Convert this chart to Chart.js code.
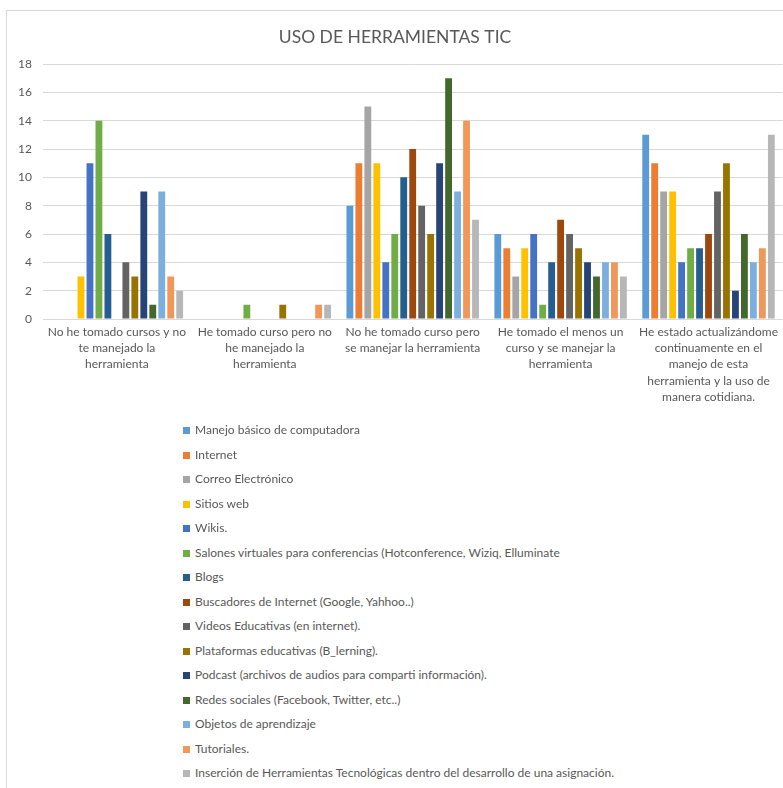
<!DOCTYPE html>
<html>
<head>
<meta charset="utf-8">
<script src="https://cdn.jsdelivr.net/npm/chart.js@4/dist/chart.umd.min.js"></script>
<style>
  html, body { margin: 0; padding: 0; background: #ffffff; }
  #wrap { position: relative; width: 783px; height: 788px; overflow: hidden; background: #fff; }
  #frame { position: absolute; left: 6px; top: 10px; width: 800px; height: 800px;
           border-left: 1px solid #d9d9d9; border-top: 1px solid #d9d9d9; box-sizing: border-box; }
  #chartBox { position: absolute; left: 0; top: 0; width: 783px; height: 420px; }
  #legend { position: absolute; left: 183px; top: 418px; font-family: Lato, "Open Sans", sans-serif;
            font-size: 12px; color: #595959; }
  .li { position: absolute; left: 0; white-space: nowrap; height: 24px; line-height: 24px; }
  .sw { display: inline-block; width: 7px; height: 7px; margin-right: 5px; vertical-align: 0px; }
</style>
</head>
<body>
<div id="wrap">
  <div id="frame"></div>
  <div id="chartBox"><canvas id="c" width="783" height="420"></canvas></div>
  <div id="legend"></div>
</div>
<script>
// ---- Data ----
const categories = [
  ["No he tomado cursos y no", "te manejado la", "herramienta"],
  ["He tomado curso pero no", "he manejado la", "herramienta"],
  ["No he tomado curso pero", "se manejar la herramienta"],
  ["He tomado el menos un", "curso y se manejar la", "herramienta"],
  ["He estado actualizándome", "continuamente en el", "manejo de esta", "herramienta y la uso de", "manera cotidiana."]
];

const seriesNames = [
  "Manejo básico de computadora",
  "Internet",
  "Correo Electrónico",
  "Sitios web",
  "Wikis.",
  "Salones virtuales para conferencias (Hotconference, Wiziq, Elluminate",
  "Blogs",
  "Buscadores de Internet (Google, Yahhoo..)",
  "Videos Educativas (en internet).",
  "Plataformas educativas (B_lerning).",
  "Podcast (archivos de audios para comparti información).",
  "Redes sociales (Facebook, Twitter, etc..)",
  "Objetos de aprendizaje",
  "Tutoriales.",
  "Inserción de Herramientas Tecnológicas dentro del desarrollo de una asignación."
];

const manejoBasico   = [0, 0, 8, 6, 13];
const internet       = [0, 0, 11, 5, 11];
const correo         = [0, 0, 15, 3, 9];
const sitiosWeb      = [3, 0, 11, 5, 9];
const wikis          = [11, 0, 4, 6, 4];
const salones        = [14, 1, 6, 1, 5];
const blogs          = [6, 0, 10, 4, 5];
const buscadores     = [0, 0, 12, 7, 6];
const videos         = [4, 0, 8, 6, 9];
const plataformas    = [3, 1, 6, 5, 11];
const podcast        = [9, 0, 11, 4, 2];
const redes          = [1, 0, 17, 3, 6];
const objetos        = [9, 0, 9, 4, 4];
const tutoriales     = [3, 1, 14, 4, 5];
const insercion      = [2, 1, 7, 3, 13];

const yTicks = [0, 2, 4, 6, 8, 10, 12, 14, 16, 18];

// ---- Styles ----
const seriesColors = [
  "#5B9BD5", "#ED7D31", "#A5A5A5", "#FFC000", "#4472C4",
  "#70AD47", "#255E91", "#9E480E", "#636363", "#997300",
  "#264478", "#43682B", "#7CAFDD", "#F1975A", "#B7B7B7"
];

const seriesValues = [manejoBasico, internet, correo, sitiosWeb, wikis, salones, blogs,
  buscadores, videos, plataformas, podcast, redes, objetos, tutoriales, insercion];

const datasets = seriesNames.map((name, i) => ({
  label: name,
  data: seriesValues[i],
  backgroundColor: seriesColors[i],
  borderWidth: 0,
  barPercentage: 0.76,
  categoryPercentage: 0.91
}));

const FONT = "Lato, 'Open Sans', sans-serif";

new Chart(document.getElementById('c'), {
  type: 'bar',
  data: { labels: categories, datasets },
  options: {
    responsive: false,
    animation: false,
    events: [],
    layout: { padding: { top: 27, left: 7, right: 0, bottom: 10 } },
    plugins: {
      legend: { display: false },
      tooltip: { enabled: false },
      title: {
        display: true,
        text: "USO DE HERRAMIENTAS TIC",
        color: "#595959",
        font: { family: FONT, size: 17.5, weight: 'normal' },
        padding: { top: 0, bottom: 16 }
      }
    },
    scales: {
      x: {
        grid: { display: false, drawTicks: false },
        border: { display: false },
        ticks: {
          color: "#595959",
          font: { family: FONT, size: 12, lineHeight: 1.35 },
          maxRotation: 0, minRotation: 0, autoSkip: false, padding: 5
        }
      },
      y: {
        min: 0, max: 18,
        afterBuildTicks: (axis) => { axis.ticks = yTicks.map(v => ({ value: v })); },
        grid: { color: "#d9d9d9", drawTicks: false },
        border: { display: false },
        ticks: {
          color: "#595959",
          font: { family: FONT, size: 12 },
          padding: 11
        }
      }
    }
  }
});

// HTML legend built from the dataset list
const leg = document.getElementById('legend');
seriesNames.forEach((name, i) => {
  const d = document.createElement('div');
  d.className = 'li';
  d.style.top = (i * 24.5) + 'px';
  const s = document.createElement('span');
  s.className = 'sw';
  s.style.background = seriesColors[i];
  d.appendChild(s);
  d.appendChild(document.createTextNode(name));
  leg.appendChild(d);
});
</script>
</body>
</html>
